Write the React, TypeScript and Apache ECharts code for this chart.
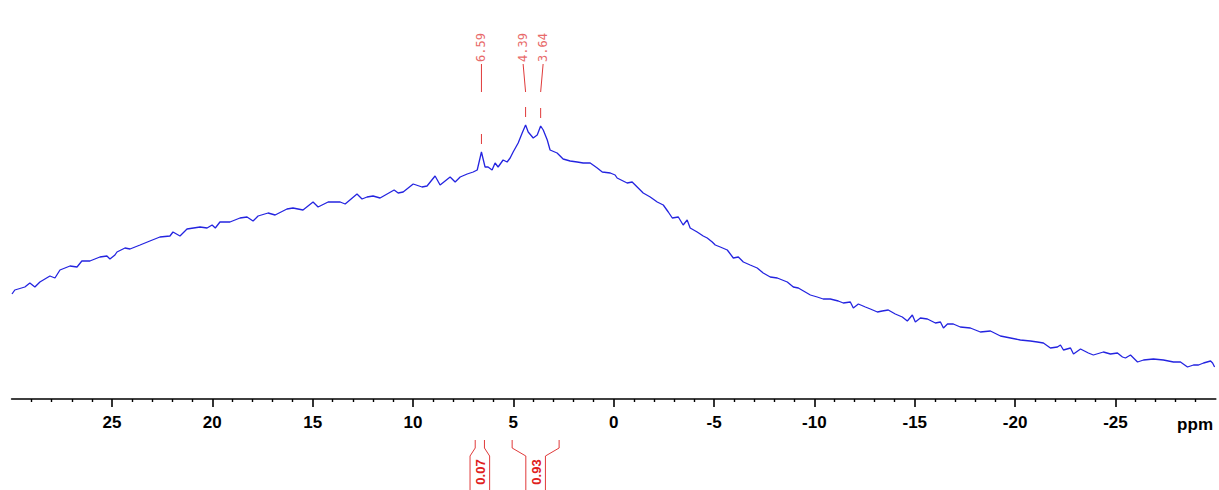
import React, { useEffect, useRef } from "react";
import * as echarts from "echarts";

// chemical shift (ppm) and intensity (arbitrary units)
const ppm = [
  29.98, 29.84, 29.34, 29.09, 28.84, 28.59, 28.09, 27.84, 27.59, 27.09, 26.74, 26.5, 26.1, 25.6, 25.25, 25.1,
  24.85, 24.75, 24.35, 24.1, 23.6, 23.11, 22.61, 22.11, 21.96, 21.61, 21.26, 20.61, 20.26, 20.01, 19.85, 19.62,
  19.12, 18.62, 18.27, 17.97, 17.72, 17.22, 16.87, 16.28, 15.98, 15.48, 14.98, 14.73, 14.23, 13.63, 13.38, 12.79,
  12.54, 12.29, 11.99, 11.64, 11.29, 10.94, 10.74, 10.49, 9.99, 9.55, 9.3, 8.9, 8.65, 8.4, 8.15, 7.9, 7.65, 7.3,
  7.0, 6.8, 6.59, 6.41, 6.26, 6.06, 5.91, 5.76, 5.51, 5.31, 5.16, 5.01, 4.76, 4.56, 4.39, 4.26, 4.01, 3.81, 3.64,
  3.51, 3.31, 3.17, 2.82, 2.52, 2.17, 1.82, 1.52, 1.17, 0.82, 0.57, 0.17, -0.07, -0.17, -0.67, -0.92, -1.17,
  -1.47, -1.82, -2.17, -2.47, -2.72, -2.92, -3.22, -3.46, -3.66, -3.81, -4.16, -4.46, -4.66, -4.91, -5.06, -5.31,
  -5.66, -5.96, -6.21, -6.46, -6.8, -7.15, -7.45, -7.8, -8.15, -8.65, -8.95, -9.2, -9.8, -10.14, -10.44, -10.79,
  -11.19, -11.44, -11.79, -11.94, -12.19, -12.54, -12.79, -13.14, -13.38, -13.68, -14.03, -14.38, -14.63, -14.88,
  -15.03, -15.28, -15.63, -16.03, -16.28, -16.43, -16.63, -16.92, -17.27, -17.77, -18.27, -18.77, -19.27, -19.77,
  -20.26, -20.76, -21.11, -21.41, -21.76, -22.11, -22.26, -22.41, -22.76, -22.91, -23.26, -23.65, -23.9, -24.4,
  -24.75, -25.1, -25.35, -25.5, -25.75, -26.1, -26.4, -26.89, -27.39, -27.89, -28.24, -28.59, -28.89, -29.14,
  -29.39, -29.74, -29.84, -29.94,
];
const intensity = [
  105, 109, 112, 116, 112, 117, 123, 121, 129, 133, 132, 138, 138, 142, 143, 140,
  144, 147, 151, 150, 154, 158, 162, 163, 167, 163, 170, 172, 171, 174, 171, 177,
  177, 181, 182, 178, 183, 186, 184, 190, 191, 189, 197, 192, 197, 197, 195, 205,
  200, 202, 203, 201, 205, 209, 206, 207, 215, 212, 213, 223, 214, 218, 222, 217, 222, 225,
  227, 229, 247, 232, 232, 229, 236, 232, 239, 237, 241, 247, 256, 266, 274, 267, 261, 264, 273,
  269, 259, 249, 246, 240, 238, 237, 236, 236, 231, 227, 226, 224, 221, 216, 217, 212,
  206, 202, 197, 194, 187, 181, 182, 174, 179, 171, 167, 163, 161, 157, 154, 152,
  149, 141, 142, 137, 134, 131, 126, 122, 121, 117, 112, 111, 104, 102, 100, 100,
  98, 96, 97, 91, 95, 92, 90, 87, 88, 89, 85, 82, 78, 84,
  77, 81, 80, 76, 77, 71, 75, 75, 72, 71, 67, 68, 63, 61,
  59, 58, 57, 56, 51, 52, 54, 49, 51, 45, 50, 46, 44, 47,
  45, 46, 42, 41, 44, 37, 39, 40, 39, 37, 37, 32, 34, 34,
  36, 38, 36, 32,
];

const majorTicks = [25, 20, 15, 10, 5, 0, -5, -10, -15, -20, -25];
const minorTicks: number[] = [];
for (let v = -29; v <= 29; v++) if (v % 5 !== 0) minorTicks.push(v);

const peakPpm = [6.59, 4.39, 3.64];
const peakHeight = [247, 274, 273];
const peakLabels = ["6.59", "4.39", "3.64"];

const integralStart = [6.9, 5.06];
const integralEnd = [6.44, 2.72];
const integralValues = ["0.07", "0.93"];

const RED_LINE = "#e03a3a";
const RED_TEXT = "#e86a6a";

function spreadLabels(xs: number[], gap: number): number[] {
  const idx = xs.map((_, i) => i).sort((a, b) => xs[a] - xs[b]);
  const out = xs.slice();
  const clusters: number[][] = [];
  for (const i of idx) {
    const last = clusters[clusters.length - 1];
    if (last && xs[i] - xs[last[last.length - 1]] < gap) last.push(i);
    else clusters.push([i]);
  }
  for (const c of clusters) {
    const center = c.reduce((s, i) => s + xs[i], 0) / c.length;
    const start = center - ((c.length - 1) * gap) / 2;
    c.forEach((i, k) => (out[i] = start + k * gap));
  }
  return out;
}

export default function App() {
  const ref = useRef<HTMLDivElement>(null);
  useEffect(() => {
    if (!ref.current) return;
    const chart = echarts.init(ref.current, undefined, { renderer: "svg" });
    const axisFont = "Liberation Sans";
    const option: any = {
      animation: false,
      backgroundColor: "#fff",
      grid: { left: 11.6, right: 3.2, top: 0, bottom: 91, containLabel: false },
      xAxis: [
        {
          type: "value",
          inverse: true,
          min: -30,
          max: 30,
          position: "bottom",
          splitLine: { show: false },
          axisLine: { show: true, onZero: false, lineStyle: { color: "#000", width: 1.6 } },
          axisTick: { show: true, customValues: majorTicks, length: 8, lineStyle: { color: "#000", width: 1.6 } },
          axisLabel: {
            show: true,
            customValues: majorTicks,
            margin: 15,
            color: "#000",
            fontFamily: axisFont,
            fontWeight: "bold",
            fontSize: 17,
          },
        },
        {
          type: "value",
          inverse: true,
          min: -30,
          max: 30,
          position: "bottom",
          offset: 0,
          splitLine: { show: false },
          axisLine: { show: false, onZero: false },
          axisTick: { show: true, customValues: minorTicks, length: 3, lineStyle: { color: "#000", width: 1.4 } },
          axisLabel: { show: false },
        },
      ],
      yAxis: { type: "value", min: 0, max: 399, show: false },
      graphic: [
        {
          type: "text",
          x: 1213,
          y: 424,
          style: {
            text: "ppm",
            font: `bold 17px "${axisFont}"`,
            textAlign: "right",
            align: "right",
            textVerticalAlign: "middle",
            verticalAlign: "middle",
            fill: "#000",
          },
        },
      ],
      series: [
        {
          type: "line",
          xAxisIndex: 0,
          data: ppm.map((p, i) => [p, intensity[i]]),
          showSymbol: false,
          symbol: "none",
          lineStyle: { color: "#2424e0", width: 1.3 },
          z: 3,
        },
        {
          type: "custom",
          xAxisIndex: 0,
          clip: false,
          data: peakPpm.map((p, i) => [p, peakHeight[i], i]),
          encode: { x: 0, y: 1 },
          renderItem: (params: any, api: any) => {
            const i = api.value(2);
            const xs = peakPpm.map((p) => api.coord([p, 0])[0]);
            const lx = spreadLabels(xs, 20);
            const pt = api.coord([api.value(0), api.value(1)]);
            const px = pt[0];
            const py = pt[1];
            return {
              type: "group",
              children: [
                {
                  type: "text",
                  x: lx[i],
                  y: 62,
                  rotation: Math.PI / 2,
                  style: {
                    text: peakLabels[i],
                    font: '12px "DejaVu Sans Mono"',
                    fill: RED_TEXT,
                    textAlign: "left",
                    align: "left",
                    textVerticalAlign: "middle",
                    verticalAlign: "middle",
                  },
                },
                {
                  type: "line",
                  shape: { x1: lx[i], y1: 64, x2: px, y2: 92 },
                  style: { stroke: RED_LINE, lineWidth: 1 },
                },
                {
                  type: "line",
                  shape: { x1: px, y1: py - 18, x2: px, y2: py - 8 },
                  style: { stroke: RED_LINE, lineWidth: 1 },
                },
              ],
            };
          },
          z: 4,
        },
        {
          type: "custom",
          xAxisIndex: 0,
          clip: false,
          data: integralStart.map((s, i) => [s, integralEnd[i], i]),
          encode: { x: [0, 1] },
          renderItem: (params: any, api: any) => {
            const i = api.value(2);
            const a = api.coord([api.value(0), 0]);
            const b = api.coord([api.value(1), 0]);
            const y0 = a[1];
            const xa = a[0];
            const xb = b[0];
            const c = (xa + xb) / 2;
            const hw = 9.8;
            const st = { stroke: RED_LINE, lineWidth: 1, fill: "none" };
            return {
              type: "group",
              children: [
                {
                  type: "polyline",
                  shape: { points: [[xa, y0 + 41], [xa, y0 + 49], [c - hw, y0 + 57], [c - hw, y0 + 92]] },
                  style: st,
                },
                {
                  type: "polyline",
                  shape: { points: [[xb, y0 + 41], [xb, y0 + 49], [c + hw, y0 + 57], [c + hw, y0 + 92]] },
                  style: st,
                },
                {
                  type: "text",
                  x: c + 0.5,
                  y: y0 + 73,
                  rotation: Math.PI / 2,
                  style: {
                    text: integralValues[i],
                    font: 'bold 13px "Liberation Sans"',
                    fill: "#e02020",
                    textAlign: "center",
                    align: "center",
                    textVerticalAlign: "middle",
                    verticalAlign: "middle",
                  },
                },
              ],
            };
          },
          z: 4,
        },
      ],
    };
    chart.setOption(option);
    return () => chart.dispose();
  }, []);
  return (
    <div
      ref={ref}
      style={{ position: "fixed", left: 0, top: 0, width: 1219, height: 490, background: "#fff" }}
    />
  );
}
